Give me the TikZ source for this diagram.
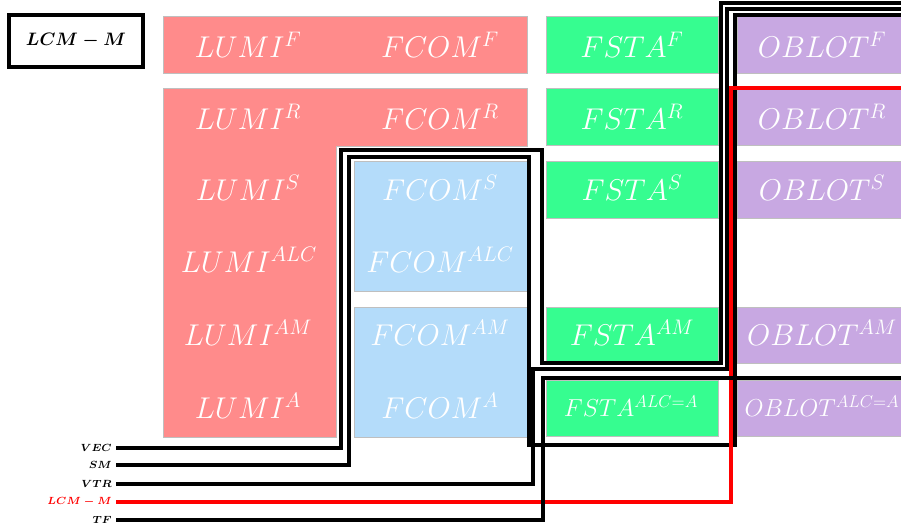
\RequirePackage{fix-cm}
\documentclass[tikz,border=0pt]{standalone}

\definecolor{lumi}{HTML}{FF8B8B}
\definecolor{fcom}{HTML}{B4DCFA}
\definecolor{fsta}{HTML}{36FD90}
\definecolor{oblot}{HTML}{C8A8E2}

\tikzstyle{caja}= [draw=black!25,line width=0.4pt]
\tikzstyle{modelo}= [text=white,inner sep=0pt,font=\fontsize{22.5}{27}\selectfont]
\tikzstyle{modelochico}= [modelo,font=\fontsize{18.4}{22}\selectfont]
\tikzstyle{etiqueta}= [anchor=east,inner sep=3pt,font=\fontsize{7.8}{9}\selectfont\boldmath]
\tikzstyle{cable}= [line width=2.5pt,black]

\begin{document}
\begin{tikzpicture}[x=0.75pt,y=-0.75pt]
		\useasboundingbox (0,0) rectangle (901,529);

		\node (titulo) at (76,41) [draw,line width=2.4pt,minimum width=100.5pt,minimum height=39pt,font=\fontsize{13.5}{16}\selectfont\boldmath] {$LCM-M$};

		% cajas
		\draw[caja,fill=lumi] (163,16) rectangle (527,73);
		\draw[caja,fill=lumi] (163,88) -- (527,88) -- (527,146) -- (336,146) -- (336,437) -- (163,437) -- cycle;
		\draw[caja,fill=fcom] (354,161) rectangle (527,291);
		\draw[caja,fill=fcom] (354,307) rectangle (527,437);
		\draw[caja,fill=fsta] (546,16) rectangle (718,73);
		\draw[caja,fill=fsta] (546,88) rectangle (718,145);
		\draw[caja,fill=fsta] (546,161) rectangle (718,218);
		\draw[caja,fill=fsta] (546,307) rectangle (718,363);
		\draw[caja,fill=fsta] (546,380) rectangle (718,436);
		\draw[caja,fill=oblot] (737,16) rectangle (902,73);
		\draw[caja,fill=oblot] (737,88) rectangle (902,145);
		\draw[caja,fill=oblot] (737,161) rectangle (902,218);
		\draw[caja,fill=oblot] (737,307) rectangle (902,363);
		\draw[caja,fill=oblot] (737,380) rectangle (902,436);

		\node (lumiF) at (248,45) [modelo] {$LUMI^{F}$};
		\node (lumiR) at (248,117) [modelo] {$LUMI^{R}$};
		\node (lumiS) at (248,188) [modelo] {$LUMI^{S}$};
		\node (lumiALC) at (249,260) [modelo] {$LUMI^{ALC}$};
		\node (lumiAM) at (248,333) [modelo] {$LUMI^{AM}$};
		\node (lumiA) at (248,406) [modelo] {$LUMI^{A}$};

		\node (fcomF) at (440,45) [modelo] {$FCOM^{F}$};
		\node (fcomR) at (440,117) [modelo] {$FCOM^{R}$};
		\node (fcomS) at (440,188) [modelo] {$FCOM^{S}$};
		\node (fcomALC) at (440,260) [modelo] {$FCOM^{ALC}$};
		\node (fcomAM) at (440,333) [modelo] {$FCOM^{AM}$};
		\node (fcomA) at (440,406) [modelo] {$FCOM^{A}$};

		\node (fstaF) at (632,45) [modelo] {$FSTA^{F}$};
		\node (fstaR) at (632,117) [modelo] {$FSTA^{R}$};
		\node (fstaS) at (632,188) [modelo] {$FSTA^{S}$};
		\node (fstaAM) at (632,333) [modelo] {$FSTA^{AM}$};
		\node (fstaA) at (631,406) [modelochico] {$FSTA^{ALC=A}$};

		\node (oblotF) at (822,45) [modelo] {$OBLOT^{F}$};
		\node (oblotR) at (822,117) [modelo] {$OBLOT^{R}$};
		\node (oblotS) at (822,188) [modelo] {$OBLOT^{S}$};
		\node (oblotAM) at (822,333) [modelo] {$OBLOT^{AM}$};
		\node (oblotA) at (822,406) [modelochico] {$OBLOT^{ALC=A}$};

		% cables
		\node (vec) at (116,448) [etiqueta] {$VEC$};
		\node (sm) at (116,465) [etiqueta] {$SM$};
		\node (vtr) at (116,484) [etiqueta] {$VTR$};
		\node (lcm) at (116,502) [etiqueta,text=red] {$LCM-M$};
		\node (tf) at (116,520) [etiqueta] {$TF$};

		\coordinate (vecfin) at (901,3);
		\coordinate (vtrfin) at (901,9);
		\coordinate (smfin) at (901,15);
		\coordinate (lcmfin) at (901,88);
		\coordinate (tffin) at (901,378);

		\draw[cable] (vec.east) -- (341,448) |- (542,150) |- (721,363) |- (vecfin);
		\draw[cable] (sm.east) -- (349,465) |- (529,157) |- (735,445) |- (smfin);
		\draw[cable] (vtr.east) -- (533,484) |- (727,369) |- (vtrfin);
		\draw[cable,red] (lcm.east) -- (731,502) |- (lcmfin);
		\draw[cable] (tf.east) -- (543,520) |- (tffin);

	\end{tikzpicture}
\end{document}
